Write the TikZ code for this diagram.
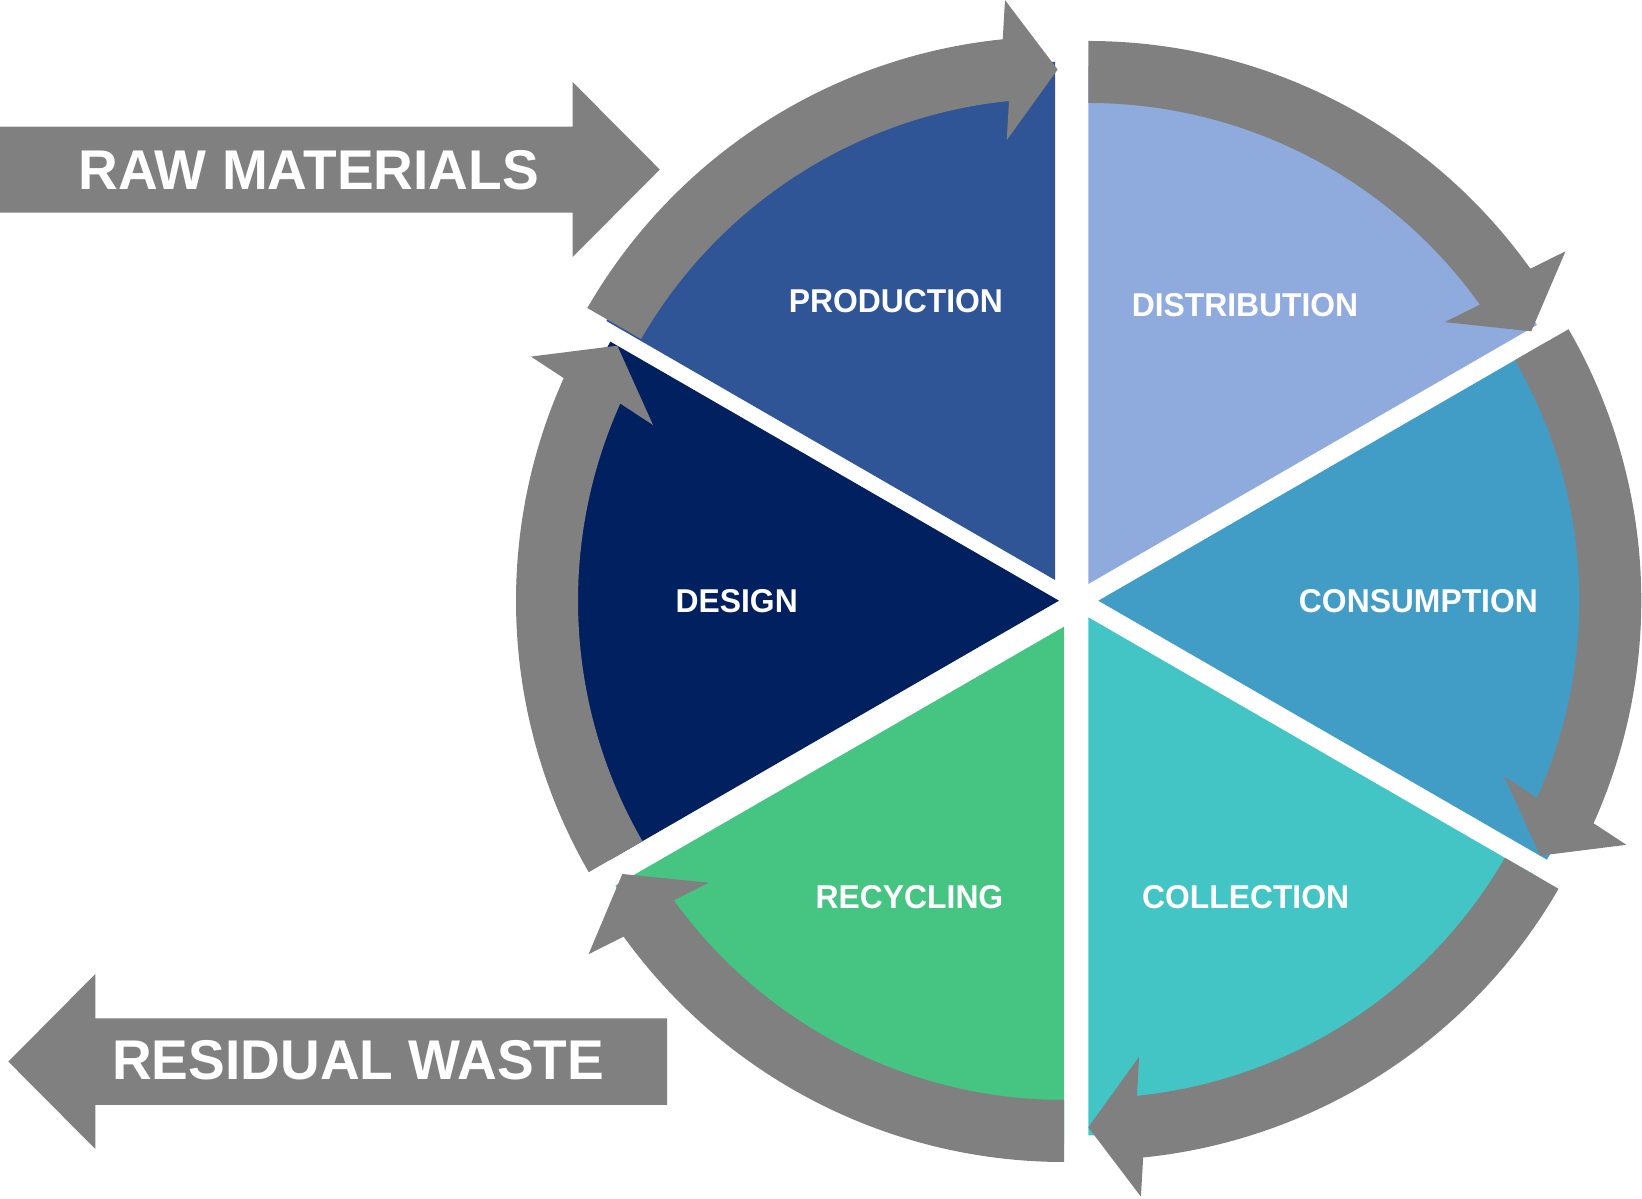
\documentclass[tikz,border=0pt]{standalone}
\usepackage{fontspec}
\setmainfont{Liberation Sans}
\usetikzlibrary{calc}

\definecolor{cgray}{RGB}{128,128,128}
\definecolor{cprod}{RGB}{47,85,151}
\definecolor{cdist}{RGB}{143,170,220}
\definecolor{ccons}{RGB}{66,157,198}
\definecolor{ccoll}{RGB}{67,197,197}
\definecolor{crecy}{RGB}{69,196,130}
\definecolor{cdesign}{RGB}{0,32,96}

% wedge: centre, start angle, end angle, colour
\newcommand{\wedgeseg}[4]{%
  \fill[#4] (#1) -- ($(#1)+(#2:518pt)$) arc[start angle=#2, end angle=#3, radius=518pt] -- cycle;}
% curved arrow: centre, tail angle, head-base angle, tip angle
\newcommand{\cycarrow}[4]{%
  \coordinate (hb) at ($(#1)+(#3:512pt)$);
  \coordinate (ht) at ($(#1)+(#4:510pt)$);
  \fill[cgray] ($(#1)+(#2:543pt)$) arc[start angle=#2, end angle=#3, radius=543pt]
    -- ($(hb)!70pt!90:(ht)$) -- (ht) -- ($(hb)!70pt!-90:(ht)$)
    -- ($(#1)+(#3:481pt)$) arc[start angle=#3, end angle=#2, radius=481pt] -- cycle;}

\tikzset{
  seglabel/.style={text=white, inner sep=0pt, anchor=center,
    font=\fontsize{33}{33}\selectfont\bfseries},
  biglabel/.style={text=white, inner sep=0pt, anchor=center,
    font=\fontsize{56}{56}\selectfont\bfseries},
}

\begin{document}
\begin{tikzpicture}[x=1pt,y=1pt]
\useasboundingbox (0,0) rectangle (1642,1199);

% wedge tips
\coordinate (wP) at (1055,619);
\coordinate (wDi) at (1088.3,615);
\coordinate (wCo) at (1098.3,598.3);
\coordinate (wCl) at (1088.3,581.7);
\coordinate (wRe) at (1064,572.3);
\coordinate (wDe) at (1059,598.3);
% arrow centres
\coordinate (aP) at (1057.6,619.5);
\coordinate (aRe) at (1064,580);

% wedges
\wedgeseg{wP}{90}{150}{cprod}
\wedgeseg{wDi}{30}{90}{cdist}
\wedgeseg{wCo}{-30}{30}{ccons}
\wedgeseg{wCl}{-90}{-30}{ccoll}
\wedgeseg{wRe}{-150}{-90}{crecy}
\wedgeseg{wDe}{150}{210}{cdesign}

% circular arrows (clockwise)
\cycarrow{aP}{150}{95.8}{90}
\cycarrow{wDi}{90}{35.5}{29.7}
\cycarrow{wCo}{30}{-24.2}{-30}
\cycarrow{wCl}{-30}{-84.2}{-90}
\cycarrow{aRe}{-90}{-144.2}{-150}
\cycarrow{wDe}{210}{155.8}{150}

% segment labels
\node[seglabel] (lprod) at (895.9,897.4) {\scalebox{0.965}[1]{PRODUCTION}};
\node[seglabel] (ldist) at (1245,894.3) {\scalebox{0.965}[1]{DISTRIBUTION}};
\node[seglabel] (lcons) at (1418.4,598) {\scalebox{0.965}[1]{CONSUMPTION}};
\node[seglabel] (lcoll) at (1245.6,301.6) {\scalebox{0.965}[1]{COLLECTION}};
\node[seglabel] (lrecy) at (909.5,301.6) {\scalebox{0.965}[1]{RECYCLING}};
\node[seglabel] (ldes) at (736.7,598) {\scalebox{0.965}[1]{DESIGN}};

% big input / output arrows
\fill[cgray] (0,986.4) -- (572.6,986.4) -- (572.6,942) -- (659.8,1029.4)
  -- (572.6,1117) -- (572.6,1072.3) -- (0,1072.3) -- cycle;
\fill[cgray] (667,94) -- (95.3,94) -- (95.3,50) -- (8.4,137.4)
  -- (95.3,225) -- (95.3,180.7) -- (667,180.7) -- cycle;

\node[biglabel] (lraw) at (308.7,1029.1) {\scalebox{0.982}[1]{RAW MATERIALS}};
\node[biglabel] (lres) at (358.2,138.3) {\scalebox{0.982}[1]{RESIDUAL WASTE}};
\end{tikzpicture}
\end{document}
